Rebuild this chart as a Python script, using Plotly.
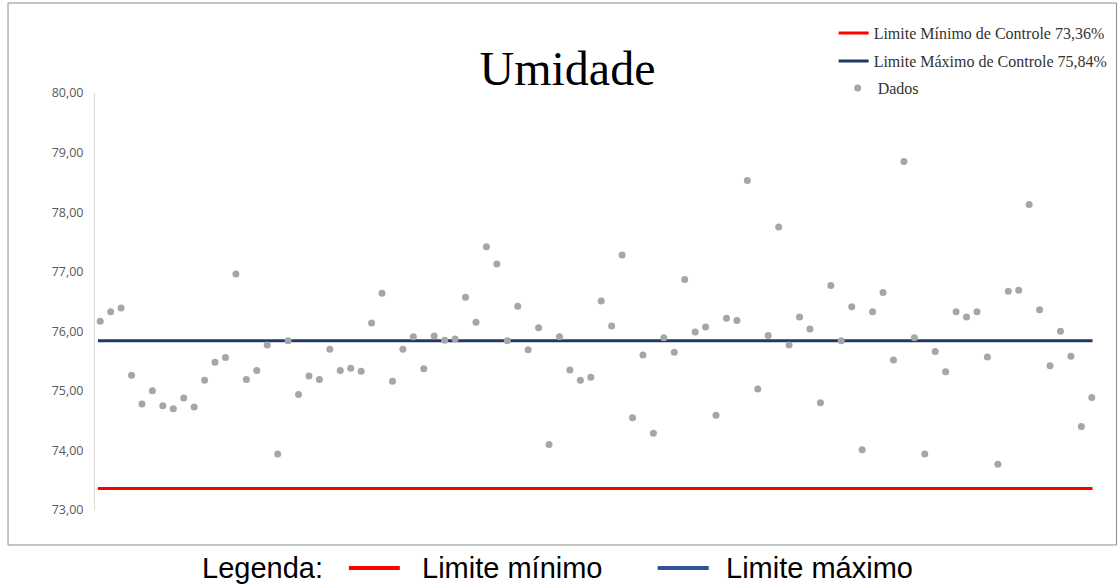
import plotly.graph_objects as go

# ---- data ----
dados = [76.17, 76.33, 76.39, 75.26, 74.78, 75.00, 74.75, 74.70, 74.88, 74.73,
         75.18, 75.48, 75.56, 76.96, 75.19, 75.34, 75.77, 73.94, 75.84, 74.94,
         75.25, 75.19, 75.70, 75.34, 75.38,
         75.33, 76.14, 76.64, 75.16, 75.70, 75.91, 75.37, 75.92, 75.85, 75.87,
         76.57, 76.15, 77.42, 77.13, 75.84, 76.42, 75.69, 76.06, 74.10, 75.91,
         75.35, 75.18, 75.23, 76.51,
         76.09, 77.28, 74.55, 75.60, 74.29, 75.89, 75.65, 76.87, 75.99, 76.07,
         74.59, 76.22, 76.18, 78.53, 75.03, 75.93, 77.75, 75.77, 76.24, 76.04,
         74.80, 76.77, 75.84,
         76.41, 74.01, 76.33, 76.65, 75.52, 78.85, 75.89, 73.94, 75.66, 75.32,
         76.33, 76.24, 76.33, 75.57, 73.77, 76.67, 76.69, 78.13, 76.36, 75.42,
         76.00, 75.58, 74.40, 74.89]
amostras = list(range(1, len(dados) + 1))

limite_minimo = 73.36
limite_maximo = 75.84
nome_min = "Limite Mínimo de Controle 73,36%"
nome_max = "Limite Máximo de Controle 75,84%"
nome_dados = "Dados"
titulo = "Umidade"
y_ticks = [73, 74, 75, 76, 77, 78, 79, 80]
linha_x = [amostras[0] - 0.22, amostras[-1] + 0.07]

fig = go.Figure()
fig.add_trace(go.Scatter(x=linha_x, y=[limite_minimo] * 2, mode="lines",
                         line=dict(color="#FF0000", width=3), name=nome_min,
                         legend="legend"))
fig.add_trace(go.Scatter(x=linha_x, y=[limite_maximo] * 2, mode="lines",
                         line=dict(color="#1F3864", width=3), name=nome_max,
                         legend="legend2"))
fig.add_trace(go.Scatter(x=amostras, y=dados, mode="markers",
                         marker=dict(color="#A6A6A6", size=7), name=nome_dados,
                         cliponaxis=False, legend="legend3"))

# outer frame
fig.add_shape(type="rect", xref="paper", yref="paper",
              x0=-0.0868, x1=1.0195, y0=-0.0839, y1=1.2158,
              line=dict(color="#8C8C8C", width=1), fillcolor="rgba(0,0,0,0)",
              layer="below")

# bottom caption legend
ly = -0.139
cap_font = dict(family="Liberation Sans", size=29, color="#000000")
fig.add_annotation(x=(200 - 95) / 1002.5, y=ly, xref="paper", yref="paper",
                   text="Legenda:", showarrow=False, xanchor="left",
                   yanchor="middle", font=cap_font)
fig.add_shape(type="line", xref="paper", yref="paper",
              x0=(349 - 95) / 1002.5, x1=(400 - 95) / 1002.5,
              y0=ly, y1=ly, line=dict(color="#FF0000", width=4))
fig.add_annotation(x=(420 - 95) / 1002.5, y=ly, xref="paper", yref="paper",
                   text="Limite mínimo", showarrow=False, xanchor="left",
                   yanchor="middle", font=cap_font)
fig.add_shape(type="line", xref="paper", yref="paper",
              x0=(658 - 95) / 1002.5, x1=(709 - 95) / 1002.5,
              y0=ly, y1=ly, line=dict(color="#2F5597", width=4))
fig.add_annotation(x=(724 - 95) / 1002.5, y=ly, xref="paper", yref="paper",
                   text="Limite máximo", showarrow=False, xanchor="left",
                   yanchor="middle", font=cap_font)

leg_font = dict(family="Liberation Serif", size=16, color="#333333")
leg_common = dict(xanchor="left", yanchor="middle", bgcolor="rgba(0,0,0,0)",
                  font=leg_font)

fig.update_layout(
    width=1119, height=586,
    margin=dict(l=95, r=21.5, t=93, b=76, autoexpand=False),
    paper_bgcolor="white", plot_bgcolor="white",
    separators=",.",
    title=dict(text=titulo, x=567.5 / 1119, xanchor="center",
               y=1 - 68 / 586, yanchor="middle",
               font=dict(family="Liberation Serif", size=48, color="#000000")),
    showlegend=True,
    legend=dict(x=(834 - 95) / 1002.5, y=(510 - 33) / 417, **leg_common),
    legend2=dict(x=(834 - 95) / 1002.5, y=(510 - 61) / 417, **leg_common),
    legend3=dict(x=(838 - 95) / 1002.5, y=(510 - 88) / 417, **leg_common),
    xaxis=dict(range=[0.5, 96.5], visible=False, showgrid=False, zeroline=False),
    yaxis=dict(range=[73, 80], tickvals=y_ticks, tickformat=".2f",
               showgrid=False, zeroline=False, showline=True,
               linecolor="#D9D9D9", linewidth=1, ticks="",
               ticklabelstandoff=8,
               tickfont=dict(family="Open Sans", size=12.5, color="#595959")),
)

fig.write_html("out.html")
